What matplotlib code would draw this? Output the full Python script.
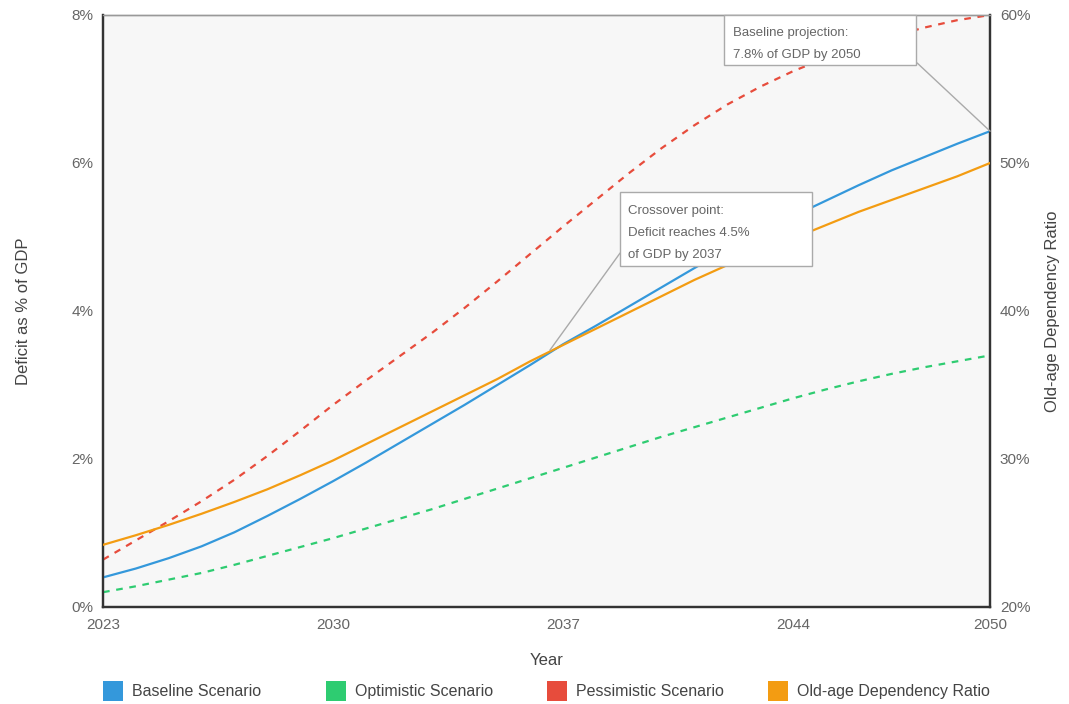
import matplotlib.pyplot as plt
from matplotlib.patches import Rectangle

plt.rcParams['font.family'] = ['Liberation Sans', 'DejaVu Sans']

# data
YEARS = list(range(2023, 2051))
BASELINE = [0.40, 0.52, 0.66, 0.82, 1.01, 1.23, 1.46, 1.70, 1.95, 2.21,
            2.47, 2.73, 3.00, 3.27, 3.55, 3.80, 4.06, 4.32, 4.58, 4.83,
            5.06, 5.28, 5.49, 5.70, 5.90, 6.08, 6.26, 6.43]
OPTIMISTIC = [0.20, 0.28, 0.37, 0.46, 0.57, 0.69, 0.81, 0.93, 1.06, 1.19,
              1.32, 1.46, 1.60, 1.74, 1.88, 2.02, 2.16, 2.30, 2.43, 2.56,
              2.69, 2.82, 2.94, 3.05, 3.15, 3.24, 3.32, 3.40]
PESSIMISTIC = [0.64, 0.90, 1.16, 1.43, 1.72, 2.04, 2.38, 2.73, 3.06, 3.38,
               3.70, 4.04, 4.40, 4.77, 5.14, 5.50, 5.86, 6.20, 6.51, 6.79,
               7.03, 7.24, 7.42, 7.57, 7.71, 7.83, 7.93, 8.00]
DEPENDENCY = [24.2, 24.85, 25.55, 26.3, 27.1, 27.95, 28.9, 29.9, 31.0, 32.1,
              33.2, 34.3, 35.4, 36.6, 37.7, 38.8, 39.9, 41.0, 42.1, 43.1,
              44.0, 44.9, 45.8, 46.7, 47.5, 48.3, 49.1, 50.0]

X_TICKS = [2023, 2030, 2037, 2044, 2050]
LEFT_TICKS = [0, 2, 4, 6, 8]
RIGHT_TICKS = [20, 30, 40, 50, 60]

CROSSOVER = (2036.6, 3.47)
NOTE_CROSS = "Crossover point:\nDeficit reaches 4.5%\nof GDP by 2037"
NOTE_END = "Baseline projection:\n7.8% of GDP by 2050"

SERIES_NAMES = ["Baseline Scenario", "Optimistic Scenario",
                "Pessimistic Scenario", "Old-age Dependency Ratio"]
COLORS = ["#3498db", "#2ecc71", "#e74c3c", "#f39c12"]

fig = plt.figure(figsize=(10.69, 7.04), dpi=100)
ax = fig.add_axes([0.0964, 0.1378, 0.8298, 0.8409])
ax2 = ax.twinx()

ax.set_facecolor("#f7f7f7")
ax.plot(YEARS, BASELINE, color=COLORS[0], lw=1.6, zorder=3)
ax.plot(YEARS, OPTIMISTIC, color=COLORS[1], lw=1.6, ls=(0, (3, 3)), zorder=3)
ax.plot(YEARS, PESSIMISTIC, color=COLORS[2], lw=1.6, ls=(0, (3, 3)), zorder=3)
ax2.plot(YEARS, DEPENDENCY, color=COLORS[3], lw=1.6, zorder=3)

ax.set_xlim(2023, 2050)
ax.set_ylim(0, 8)
ax2.set_ylim(20, 60)
ax.set_xticks(X_TICKS)
ax.set_yticks(LEFT_TICKS)
ax.set_yticklabels([f"{v}%" for v in LEFT_TICKS])
ax2.set_yticks(RIGHT_TICKS)
ax2.set_yticklabels([f"{v}%" for v in RIGHT_TICKS])

for a in (ax, ax2):
    a.tick_params(length=0, labelsize=11, labelcolor="#666666")
ax.tick_params(axis="x", pad=8)
ax.tick_params(axis="y", pad=7)
ax2.tick_params(axis="y", pad=7)

for a in (ax, ax2):
    for side in ("left", "right", "bottom"):
        a.spines[side].set_color("#333333")
        a.spines[side].set_linewidth(1.6)
    a.spines["top"].set_color("#999999")
    a.spines["top"].set_linewidth(1.0)

ax.set_xlabel("Year", fontsize=12, color="#444444")
ax.set_ylabel("Deficit as % of GDP", fontsize=12, color="#444444")
ax2.set_ylabel("Old-age Dependency Ratio", fontsize=12, color="#444444")
ax.xaxis.set_label_coords(0.5, -0.0777)
ax.yaxis.set_label_coords(-0.0812, 0.5)
ax2.yaxis.set_label_coords(1.0620, 0.5)

# annotation boxes
boxes = [
    (0.5829, 0.576, 0.2164, 0.125, NOTE_CROSS, (0.592, 0.679), (0.5829, 0.598), CROSSOVER),
    (0.7001, 0.9155, 0.2165, 0.0845, NOTE_END, (0.710, 0.979), (0.9177, 0.919), (YEARS[-1], BASELINE[-1])),
]
for x0, y0, w, h, txt, tpos, lstart, target in boxes:
    ax2.add_patch(Rectangle((x0, y0), w, h, transform=ax2.transAxes,
                            facecolor="white", edgecolor="#aaaaaa", lw=1, zorder=6,
                            clip_on=False))
    ax2.text(tpos[0], tpos[1], txt, transform=ax2.transAxes, ha="left", va="top",
             fontsize=9.5, color="#666666", linespacing=2.1, zorder=7)
    ax2.annotate("", xy=target, xycoords=ax.transData, xytext=lstart,
                 textcoords=ax2.transAxes, zorder=5,
                 arrowprops=dict(arrowstyle="-", color="#aaaaaa", lw=1,
                                 shrinkA=0, shrinkB=0))

# legend drawn as colour squares along the bottom
legend_x = [103, 326, 547, 768]
for lx, name, col in zip(legend_x, SERIES_NAMES, COLORS):
    fig.add_artist(Rectangle((lx / 1069, 3 / 704), 20 / 1069, 20 / 704,
                             transform=fig.transFigure, facecolor=col, edgecolor="none"))
    fig.text((lx + 29) / 1069, 12.5 / 704, name, fontsize=11.5, color="#444444",
             ha="left", va="center")

fig.savefig("out.png", dpi=100)
